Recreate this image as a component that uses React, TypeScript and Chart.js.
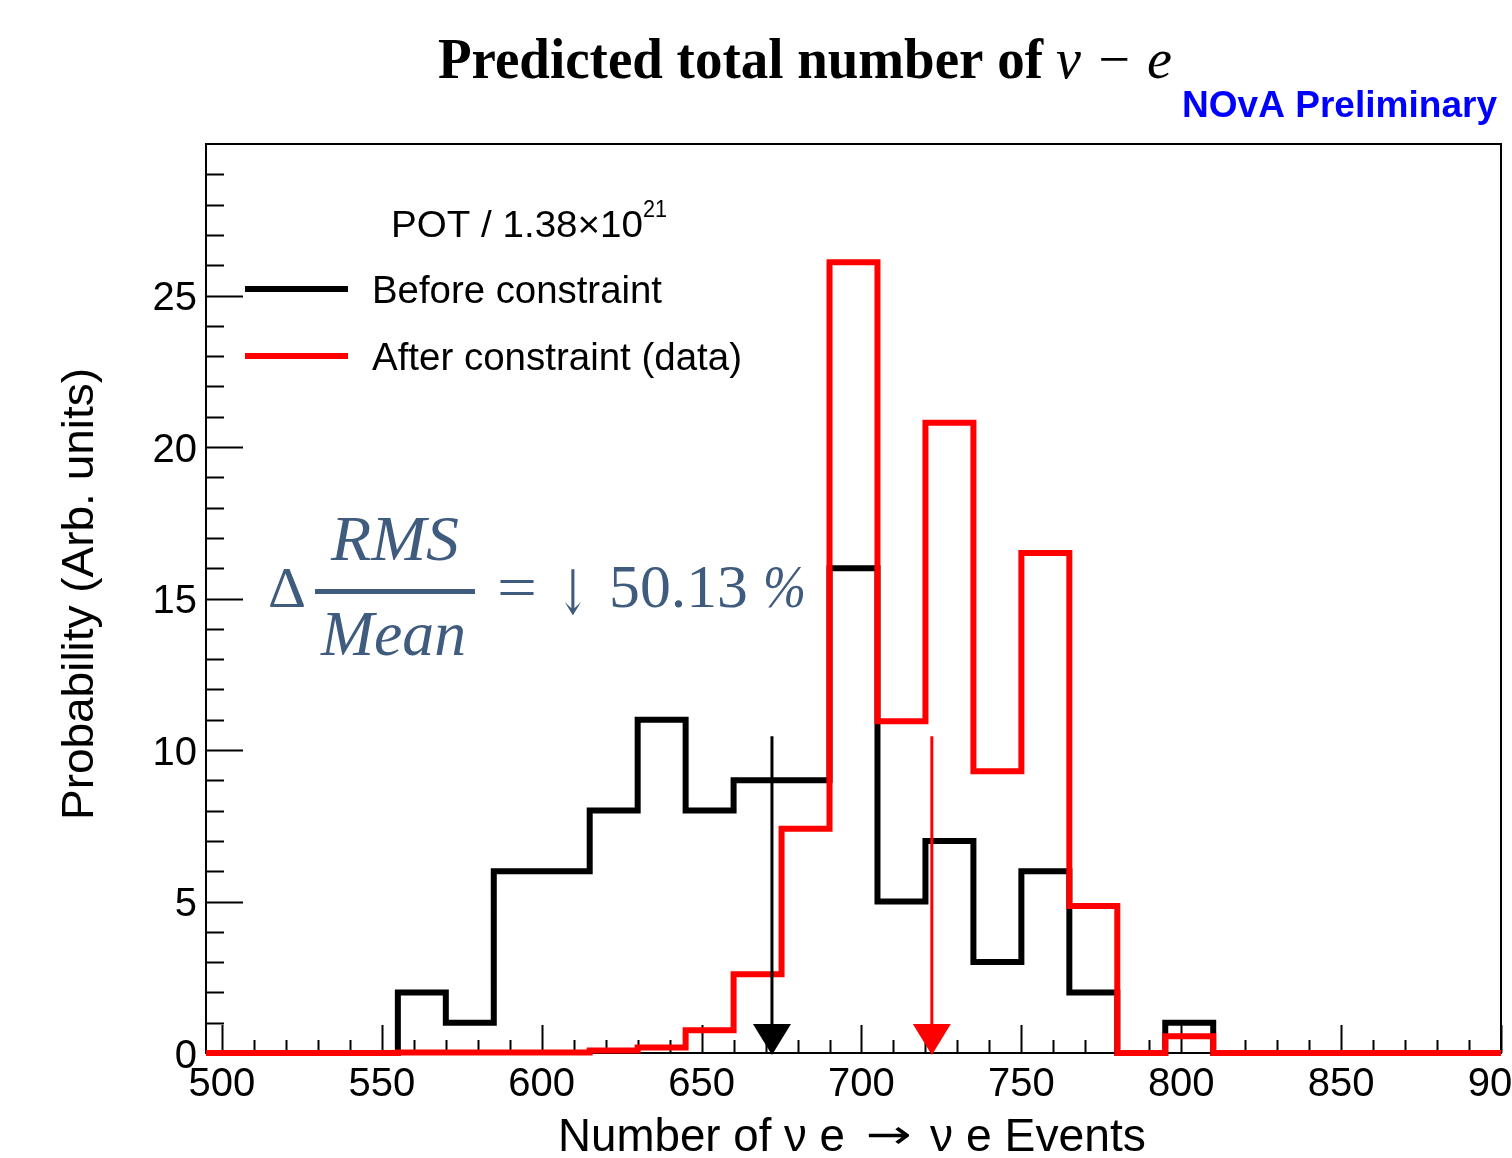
import React, { useEffect, useRef } from 'react';
import { Chart, registerables } from 'chart.js';

Chart.register(...registerables);

// ---- data ----
const binEdges = [495, 510, 525, 540, 555, 570, 585, 600, 615, 630, 645, 660, 675, 690, 705, 720, 735, 750, 765, 780, 795, 810, 825, 840, 855, 870, 885, 900];
const beforeValues = [0, 0, 0, 0, 2, 1, 6, 6, 8, 11, 8, 9, 9, 16, 5, 7, 3, 6, 2, 0, 1, 0, 0, 0, 0, 0, 0];
const afterValues = [0, 0, 0, 0, 0.02, 0.02, 0.02, 0.02, 0.08, 0.18, 0.75, 2.6, 7.4, 26.1, 10.95, 20.8, 9.3, 16.5, 4.85, 0, 0.55, 0, 0, 0, 0, 0, 0];
const seriesLabels = ['Before constraint', 'After constraint (data)'];
const meanMarkers = [672, 722];
const markerTop = 10.45;
const xTickLabels = [500, 550, 600, 650, 700, 750, 800, 850, 900];
const yTickLabels = [0, 5, 10, 15, 20, 25];
const xRange = [495, 900];
const yRange = [0, 30];

const BLACK = '#000000';
const RED = '#ff0000';
const NOTE = '#3f5b7e';

function toPoints(values: number[]) {
  return binEdges.map((e, i) => ({ x: e, y: values[Math.min(i, values.length - 1)] }));
}

function fitText(ctx: CanvasRenderingContext2D, text: string, x: number, y: number, width: number, font: string, color: string) {
  ctx.save();
  ctx.font = font;
  ctx.fillStyle = color;
  ctx.textAlign = 'left';
  ctx.textBaseline = 'alphabetic';
  const w = ctx.measureText(text).width || 1;
  ctx.translate(x, y);
  ctx.scale(width / w, 1);
  ctx.fillText(text, 0, 0);
  ctx.restore();
}

const SANS = '"Liberation Sans", Arial, Helvetica, sans-serif';
const SERIF = '"Liberation Serif", "Times New Roman", serif';

const rootStyle = {
  id: 'rootStyle',
  beforeDatasetsDraw(chart: any) {
    const { ctx, chartArea: a, scales } = chart;
    const xs = scales.x;
    const ys = scales.y;
    ctx.save();
    ctx.strokeStyle = BLACK;
    ctx.lineWidth = 2;
    ctx.strokeRect(a.left, a.top, a.right - a.left, a.bottom - a.top);

    // y ticks
    ctx.lineWidth = 2;
    for (let v = yRange[0]; v < yRange[1]; v += 1) {
      const py = Math.round(ys.getPixelForValue(v)) + 0.5;
      const major = yTickLabels.includes(v);
      const len = major ? 37 : 18;
      ctx.beginPath();
      ctx.moveTo(a.left, py);
      ctx.lineTo(a.left + len, py);
      ctx.stroke();
    }
    // x ticks
    for (let v = xTickLabels[0]; v <= xTickLabels[xTickLabels.length - 1]; v += 10) {
      const px = Math.round(xs.getPixelForValue(v)) + 0.5;
      const major = xTickLabels.includes(v);
      const len = major ? 28 : 13;
      ctx.beginPath();
      ctx.moveTo(px, a.bottom);
      ctx.lineTo(px, a.bottom - len);
      ctx.stroke();
    }

    // tick labels
    ctx.fillStyle = BLACK;
    ctx.font = `40px ${SANS}`;
    ctx.textBaseline = 'alphabetic';
    ctx.textAlign = 'right';
    yTickLabels.forEach((v) => {
      ctx.fillText(String(v), a.left - 9, ys.getPixelForValue(v) + 14.5);
    });
    ctx.textAlign = 'center';
    xTickLabels.forEach((v) => {
      ctx.fillText(String(v), xs.getPixelForValue(v), a.bottom + 43);
    });
    ctx.restore();
  },
  afterDatasetsDraw(chart: any) {
    const { ctx, scales } = chart;
    const xs = scales.x;
    const ys = scales.y;
    ctx.save();

    // mean arrows
    const colors = [BLACK, RED];
    meanMarkers.forEach((m, i) => {
      const px = xs.getPixelForValue(m);
      const top = ys.getPixelForValue(markerTop);
      const bottom = ys.getPixelForValue(0);
      ctx.strokeStyle = colors[i];
      ctx.fillStyle = colors[i];
      ctx.lineWidth = 3;
      ctx.beginPath();
      ctx.moveTo(px, top);
      ctx.lineTo(px, bottom - 26);
      ctx.stroke();
      ctx.beginPath();
      ctx.moveTo(px - 19, bottom - 29);
      ctx.lineTo(px + 19, bottom - 29);
      ctx.lineTo(px, bottom + 2);
      ctx.closePath();
      ctx.fill();
    });

    // legend
    fitText(ctx, 'POT / 1.38\u00d710', 391, 237, 252, `37px ${SANS}`, BLACK);
    fitText(ctx, '21', 643, 217, 24, `24px ${SANS}`, BLACK);
    const rows = [289, 356];
    const lcol = [BLACK, RED];
    const widths = [290, 370];
    rows.forEach((ry, i) => {
      ctx.strokeStyle = lcol[i];
      ctx.lineWidth = 6;
      ctx.beginPath();
      ctx.moveTo(245, ry);
      ctx.lineTo(348, ry);
      ctx.stroke();
      fitText(ctx, seriesLabels[i], 372, ry + 14, widths[i], `38px ${SANS}`, BLACK);
    });

    // annotation
    fitText(ctx, '\u0394', 268, 607, 38, `58px ${SERIF}`, NOTE);
    ctx.fillStyle = NOTE;
    ctx.fillRect(315, 589, 160, 5);
    fitText(ctx, 'RMS', 331, 560, 128, `italic 64px ${SERIF}`, NOTE);
    fitText(ctx, 'Mean', 321, 655, 145, `italic 64px ${SERIF}`, NOTE);
    fitText(ctx, '=', 497, 607, 40, `60px ${SERIF}`, NOTE);
    fitText(ctx, '\u2193', 557, 614, 32, `62px "DejaVu Serif", serif`, NOTE);
    fitText(ctx, '50.13', 609, 607, 139, `62px ${SERIF}`, NOTE);
    fitText(ctx, '%', 763, 607, 43, `italic 62px ${SERIF}`, NOTE);

    // titles
    fitText(ctx, 'Predicted total number of', 438, 78, 605, `bold 56px ${SERIF}`, BLACK);
    fitText(ctx, '\u03bd \u2212 e', 1056, 78, 116, `italic 56px ${SERIF}`, BLACK);
    fitText(ctx, 'NOvA Preliminary', 1182, 117, 315, `bold 36px ${SANS}`, '#0000ff');

    // axis titles
    fitText(ctx, 'Number of \u03bd e', 558, 1151, 287, `46px ${SANS}`, BLACK);
    fitText(ctx, '\u2192', 866, 1148, 46, `40px "DejaVu Sans", sans-serif`, BLACK);
    fitText(ctx, '\u03bd e Events', 930, 1151, 216, `46px ${SANS}`, BLACK);
    ctx.save();
    ctx.translate(93, 820);
    ctx.rotate(-Math.PI / 2);
    fitText(ctx, 'Probability (Arb. units)', 0, 0, 452, `45px ${SANS}`, BLACK);
    ctx.restore();

    ctx.restore();
  },
};

export default function App() {
  const ref = useRef<HTMLCanvasElement | null>(null);
  useEffect(() => {
    if (!ref.current) return;
    const chart = new Chart(ref.current, {
      type: 'line',
      data: {
        datasets: [
          {
            label: seriesLabels[1],
            data: toPoints(afterValues),
            borderColor: RED,
            borderWidth: 6,
            stepped: 'before',
            pointRadius: 0,
            fill: false,
            borderJoinStyle: 'miter',
            borderCapStyle: 'butt',
            clip: false,
            order: 0,
          },
          {
            label: seriesLabels[0],
            data: toPoints(beforeValues),
            borderColor: BLACK,
            borderWidth: 6,
            stepped: 'before',
            pointRadius: 0,
            fill: false,
            borderJoinStyle: 'miter',
            borderCapStyle: 'butt',
            clip: false,
            order: 1,
          },
        ],
      } as any,
      options: {
        animation: false,
        responsive: false,
        devicePixelRatio: 1,
        layout: { padding: { left: 206, top: 144, right: 11, bottom: 105 } },
        plugins: { legend: { display: false }, tooltip: { enabled: false }, title: { display: false } },
        scales: {
          x: { type: 'linear', display: false, min: xRange[0], max: xRange[1] },
          y: { type: 'linear', display: false, min: yRange[0], max: yRange[1] },
        },
      } as any,
      plugins: [rootStyle],
    });
    return () => chart.destroy();
  }, []);
  return (
    <div style={{ position: 'absolute', left: 0, top: 0, width: 1512, height: 1158, background: '#fff' }}>
      <canvas ref={ref} width={1512} height={1158} style={{ display: 'block' }} />
    </div>
  );
}
